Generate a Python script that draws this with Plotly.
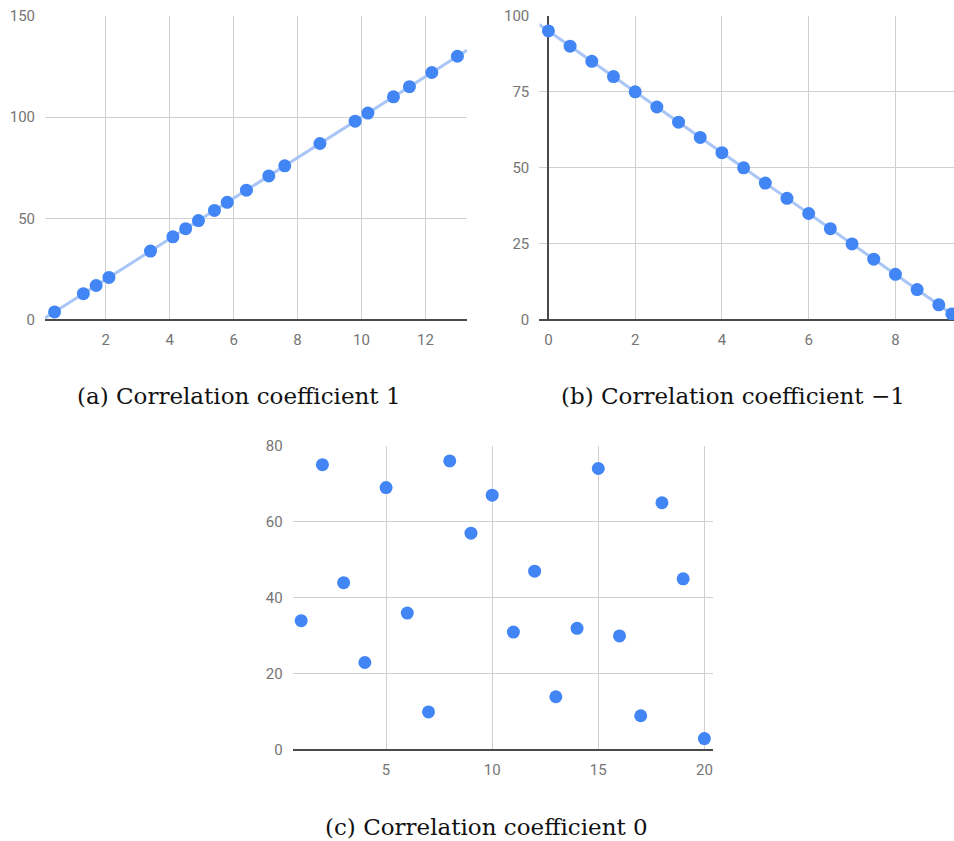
import numpy as np
import plotly.graph_objects as go

# ---- data -------------------------------------------------------------
pos_x = [0.4, 1.3, 1.7, 2.1, 3.4, 4.1, 4.5, 4.9, 5.4, 5.8, 6.4, 7.1, 7.6,
         8.7, 9.8, 10.2, 11.0, 11.5, 12.2, 13.0]
pos_y = [4, 13, 17, 21, 34, 41, 45, 49, 54, 58, 64, 71, 76,
         87, 98, 102, 110, 115, 122, 130]

neg_x = [0, 0.5, 1, 1.5, 2, 2.5, 3, 3.5, 4, 4.5, 5, 5.5, 6, 6.5, 7, 7.5,
         8, 8.5, 9, 9.3]
neg_y = [95, 90, 85, 80, 75, 70, 65, 60, 55, 50, 45, 40, 35, 30, 25, 20,
         15, 10, 5, 2]

zero_x = list(range(1, 21))
zero_y = [34, 75, 44, 23, 69, 36, 10, 76, 57, 67, 31, 47, 14, 32, 74, 30,
          9, 65, 45, 3]

captions = ["(a) Correlation coefficient 1",
            "(b) Correlation coefficient \u22121",
            "(c) Correlation coefficient 0"]

# ---- styling ----------------------------------------------------------
DOT = "#4285F4"
TREND = "#A9C6F7"
GRID = "#D0D0D0"
ZERO = "#4A4A4A"
TICK_FONT = dict(family="Roboto", size=15, color="#757575")
CAPTION_FONT = dict(family="DejaVu Serif", size=23, color="#111111")
W, H = 954, 841

fig = go.Figure()

def add_panel(idx, xs, ys, xrange, yrange, dx, dy, xdom, ydom, trend):
    xa = "x" if idx == 1 else f"x{idx}"
    ya = "y" if idx == 1 else f"y{idx}"
    if trend:
        coef = np.polyfit(xs, ys, 1)
        tx = np.array(xrange, dtype=float)
        fig.add_trace(go.Scatter(x=tx, y=np.polyval(coef, tx), mode="lines",
                                 line=dict(color=TREND, width=3),
                                 xaxis=xa, yaxis=ya, hoverinfo="skip",
                                 showlegend=False))
    fig.add_trace(go.Scatter(x=xs, y=ys, mode="markers",
                             marker=dict(color=DOT, size=13),
                             xaxis=xa, yaxis=ya, showlegend=False))
    common = dict(showgrid=True, gridcolor=GRID, gridwidth=1,
                  zeroline=True, zerolinecolor=ZERO, zerolinewidth=2,
                  showline=False, ticks="outside", ticklen=6,
                  tickcolor="rgba(0,0,0,0)", tickfont=TICK_FONT,
                  automargin=False, fixedrange=True)
    key = "" if idx == 1 else str(idx)
    fig.update_layout(**{
        f"xaxis{key}": dict(common, domain=xdom, range=xrange, dtick=dx,
                            tick0=0, anchor=ya),
        f"yaxis{key}": dict(common, domain=ydom, range=yrange, dtick=dy,
                            tick0=0, anchor=xa),
    })

def dom_x(left, right):
    return [left / W, right / W]

def dom_y(top, bottom):
    return [1 - bottom / H, 1 - top / H]

add_panel(1, pos_x, pos_y, [0.1, 13.3], [0, 150], 2, 50,
          dom_x(45, 467), dom_y(15.7, 320), True)
add_panel(2, neg_x, neg_y, [-0.21, 9.35], [0, 100], 2, 25,
          dom_x(539.3, 954), dom_y(15.7, 320), True)
add_panel(3, zero_x, zero_y, [0.6, 20.42], [0, 80], 5, 20,
          dom_x(292.7, 713.3), dom_y(445.7, 750), False)

cap_pos = [(238.5, 396), (733, 396), (486, 827)]
for text, (cx, cy) in zip(captions, cap_pos):
    fig.add_annotation(text=text, x=cx / W, y=1 - cy / H, xref="paper",
                       yref="paper", showarrow=False, xanchor="center",
                       yanchor="middle", font=CAPTION_FONT)

fig.update_layout(width=W, height=H, margin=dict(l=0, r=0, t=0, b=0),
                  paper_bgcolor="white", plot_bgcolor="white")

fig.write_html("out.html", config={"displayModeBar": False})
